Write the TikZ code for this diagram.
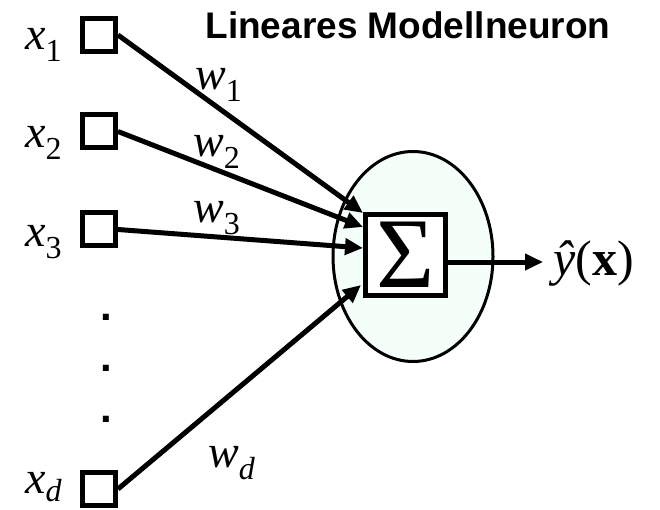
\documentclass[tikz,border=0pt]{standalone}
\usepackage{fontspec}
\setmainfont{Liberation Serif}
\newfontfamily\titlefont{Liberation Sans}
\usetikzlibrary{calc, positioning}
\usetikzlibrary{arrows.meta}
\usetikzlibrary{shapes.geometric}
\definecolor{cellfill}{HTML}{F3FFF8}
\newcommand{\symsub}[3][12pt]{\textit{#2}\raisebox{-#1}{\fontsize{32}{32}\selectfont #3}}

\begin{document}
\begin{tikzpicture}[x=1pt,y=-1pt,font=\fontsize{46}{46}\selectfont,
    inbox/.style={draw,line width=5pt,minimum size=33pt,inner sep=0pt},
    symlabel/.style={anchor=base west,inner sep=0pt},
    wire/.style={line width=5pt,-{Triangle[length=18pt,width=16pt]}}]
\useasboundingbox (0,0) rectangle (660,510);
\def\inx{99}
\def\labelx{25}

% inputs
\node[inbox] (InOne) at (\inx,35) {};
\node[inbox] (InTwo) at (\inx,131.5) {};
\node[inbox] (InThree) at (\inx,229.5) {};
\node[inbox] (InD) at (\inx,489) {};

\node[symlabel] (LabelOne) at (\labelx,50) {\symsub{x}{1}};
\node[symlabel] (LabelTwo) at (\labelx,148) {\symsub{x}{2}};
\node[symlabel] (LabelThree) at (\labelx,247) {\symsub{x}{3}};
\node[symlabel] (LabelD) at (\labelx,493) {\symsub[8pt]{x}{\textit{d}}};

\foreach \y/\n in {320/1,371/2,422/3}
    \node[anchor=base,inner sep=0pt,
        font=\titlefont\bfseries\fontsize{42}{42}\selectfont] (Dot\n) at (106,\y) {.};

% neuron
\node[ellipse,draw,line width=3pt,fill=cellfill,inner sep=0pt,
    minimum width=160pt,minimum height=210pt] (Cell) at (413,256.5) {};
\node[draw,line width=5pt,fill=white,minimum size=80pt,inner sep=0pt,
    font=\fontsize{100}{100}\selectfont] (Sum) at (405.5,255) {Σ};

% weighted inputs
\draw[wire] (InOne.east) -- ([yshift=42pt]Sum.west);
\draw[wire] (InTwo.east) -- ([yshift=28pt]Sum.west);
\draw[wire] (InThree.east) -- ([yshift=7pt]Sum.west);
\draw[wire] (InD.east) -- ([xshift=-2pt,yshift=-30pt]Sum.west);

\node[symlabel] (WOne) at (195,90) {\symsub{w}{1}};
\node[symlabel] (WTwo) at (193,157) {\symsub{w}{2}};
\node[symlabel] (WThree) at (193,223) {\symsub{w}{3}};
\node[symlabel] (WD) at (208,467) {\symsub{w}{\textit{d}}};

% output
\coordinate (OutTip) at (543,262);
\draw[wire] ([yshift=-7pt]Sum.east) -- (OutTip);
\node[symlabel,font=\fontsize{50}{50}\selectfont] (Out) at (553,275)
    {\textit{ŷ}(\textbf{x})};

\node[inner sep=0pt,font=\titlefont\bfseries\fontsize{37}{37}\selectfont]
    (Title) at (408,25) {Lineares Modellneuron};
\end{tikzpicture}
\end{document}
